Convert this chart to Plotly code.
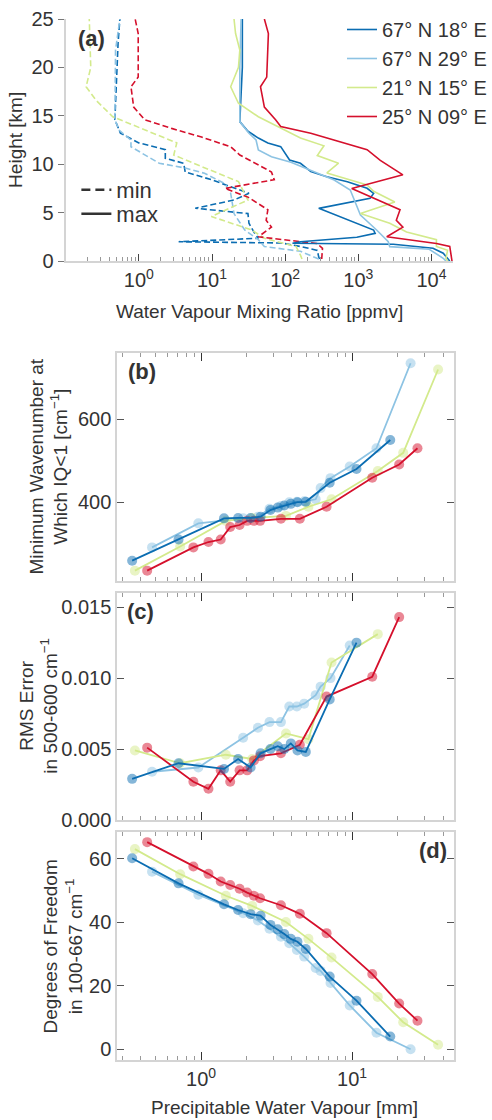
import plotly.graph_objects as go

# ---------------- data: panel (a) water vapour profiles ----------------
series_names = ["67° N 18° E", "67° N 29° E", "21° N 15° E", "25° N 09° E"]
colors = ["#0b6db2", "#8dc3e3", "#d3ea8c", "#d5102c"]

h_max_18E = [0.0, 0.28, 0.8, 1.31, 1.73, 1.83, 1.99, 2.45, 2.86, 3.2, 5.44, 6.48, 6.99, 7.51, 8.19, 8.71, 9.23, 10.09, 10.43, 11.81, 12.2, 12.7, 13.4, 14.4, 20.0, 25.0]
q_max_18E = [17800, 16600, 14500, 10500, 3020, 126, 162, 955, 1700, 1620, 288, 1450, 1620, 1320, 708, 372, 224, 162, 115, 87, 58, 43, 31, 24, 26, 26]
h_max_29E = [0.0, 0.28, 1.21, 1.48, 1.99, 3.2, 4.75, 5.61, 7.33, 8.37, 9.4, 10.2, 10.77, 11.47, 12.5, 13.19, 14.4, 20.0, 25.0]
q_max_29E = [15800, 14500, 9330, 2690, 2570, 1780, 1070, 955, 776, 468, 224, 120, 65, 43, 40, 32, 24, 24, 25]
h_max_15E = [0.0, 0.28, 1.1, 1.5, 2.2, 3.0, 3.9, 4.9, 6.1, 7.2, 7.85, 9.1, 10.1, 10.9, 11.9, 12.7, 13.9, 14.9, 16.3, 18.0, 20.0, 21.8, 23.5, 25.0]
q_max_15E = [16600, 15800, 16600, 11700, 11700, 4570, 2690, 1070, 3160, 1620, 1320, 372, 537, 275, 339, 162, 79, 43, 23, 18, 23, 24, 21, 20]
h_max_09E = [0.0, 1.5, 1.8, 2.5, 3.5, 4.2, 5.3, 6.5, 7.5, 8.9, 10.4, 11.5, 12.2, 13.2, 13.9, 14.6, 15.9, 18.0, 19.0, 23.5, 25.0]
q_max_09E = [19100, 17800, 11700, 2450, 4070, 3310, 3720, 1620, 813, 4070, 2000, 1320, 631, 224, 87, 74, 52, 46, 56, 59, 52]

h_min_18E = [0.2, 0.4, 1.1, 1.5, 1.86, 1.99, 2.35, 2.9, 3.9, 4.9, 5.45, 6.3, 7.0, 7.85, 8.4, 9.2, 10.1, 10.6, 11.5, 12.2, 13.2, 14.6, 22.5, 25.0]
q_min_18E = [295, 288, 275, 162, 89, 3.5, 43, 38, 32, 31, 5.9, 20, 32, 15, 9.8, 4.3, 4.1, 2.3, 2.3, 1.0, 0.56, 0.47, 0.52, 0.55]
h_min_29E = [0.2, 1.0, 1.5, 2.2, 3.2, 4.9, 7.0, 8.0, 9.06, 9.6, 10.1, 11.8, 12.5, 13.5, 14.6, 21.8, 25.0]
q_min_29E = [288, 162, 52, 43, 28, 20, 18, 15, 7.9, 4.3, 1.9, 0.78, 0.78, 0.54, 0.47, 0.48, 0.55]
h_min_15E = [0.2, 0.6, 1.5, 2.35, 3.2, 4.6, 6.3, 8.2, 10.1, 10.95, 12.2, 13.7, 14.9, 16.6, 18.0, 20.0, 25.0]
q_min_15E = [170, 162, 141, 52, 35, 9.8, 31, 23, 5.6, 3.0, 3.3, 1.1, 0.44, 0.26, 0.19, 0.22, 0.21]
h_min_09E = [0.2, 1.3, 1.8, 2.5, 3.5, 4.2, 5.3, 6.6, 7.5, 8.4, 9.2, 9.4, 10.95, 11.8, 12.8, 13.7, 14.6, 15.9, 18.0, 19.0, 23.5, 25.0]
q_min_09E = [316, 324, 275, 43, 65, 55, 58, 31, 15, 71, 65, 58, 24, 18, 7.2, 2.8, 1.2, 0.85, 0.78, 0.98, 0.98, 0.89]

# ---------------- data: panels (b)-(d) vs precipitable water vapour ----------------
pwv_18E = [0.35, 0.71, 1.42, 1.76, 2.13, 2.48, 2.88, 3.22, 3.56, 3.93, 4.35, 4.94, 7.11, 10.7, 17.9]
wn_18E = [259, 310, 361, 362, 362, 365, 381, 387, 392, 396, 400, 401, 447, 480, 550]
rms_18E = [0.0029, 0.0040, 0.0036, 0.0043, 0.0037, 0.0047, 0.0050, 0.0052, 0.0050, 0.0054, 0.0049, 0.0048, 0.0085, 0.0125, None]
dof_18E = [60.2, 52.3, 45.7, 43.9, 42.6, 42.1, 39.2, 37.8, 36.3, 34.8, 33.9, 31.6, 22.9, 15.3, 4.0]

pwv_29E = [0.474, 0.96, 1.90, 2.38, 2.84, 3.38, 3.84, 4.31, 4.82, 5.74, 6.19, 7.20, 9.65, 14.5, 24.4]
wn_29E = [291, 349, 361, 365, 384, 391, 400, 401, 402, 407, 434, 458, 486, 530, 735]
rms_29E = [0.0034, 0.0037, 0.0058, 0.0065, 0.0069, 0.0069, 0.0080, 0.0080, 0.0082, 0.0088, 0.0094, 0.0100, 0.0123, None, None]
dof_29E = [56.0, 48.7, 42.9, 40.6, 38.0, 35.5, 33.4, 31.3, 29.2, 25.6, 24.7, 20.9, 13.8, 5.2, 0.0]

pwv_15E = [0.365, 0.728, 1.46, 2.18, 3.65, 5.14, 7.31, 14.8, 21.8, 37.1]
wn_15E = [235, 293, 355, 362, 367, 389, 407, 475, 519, 720]
rms_15E = [0.0049, 0.0040, 0.0046, 0.0043, 0.0061, 0.0057, 0.0111, 0.0131, None, None]
dof_15E = [63.1, 55.2, 48.4, 45.2, 40.1, 34.8, 28.9, 16.5, 8.5, 1.4]

pwv_09E = [0.44, 0.89, 1.12, 1.35, 1.56, 1.80, 2.02, 2.24, 2.46, 3.38, 4.51, 6.78, 13.6, 20.5, 27.1]
wn_09E = [235, 291, 304, 310, 340, 345, 355, 355, 355, 360, 360, 389, 459, 491, 530]
rms_09E = [0.0051, 0.0027, 0.0022, 0.0035, 0.0027, 0.0035, 0.0035, 0.0042, 0.0045, 0.0047, 0.0053, 0.0087, 0.0101, 0.0143, None]
dof_09E = [65.3, 57.6, 55.3, 52.9, 51.8, 50.6, 49.4, 48.4, 47.6, 45.4, 42.7, 36.6, 23.7, 14.4, 9.0]

a_ticks = [1, 10, 100, 1000, 10000]
a_ticktext = ["10<sup>0</sup>", "10<sup>1</sup>", "10<sup>2</sup>", "10<sup>3</sup>", "10<sup>4</sup>"]
pwv_ticks = [1, 10]
pwv_ticktext = ["10<sup>0</sup>", "10<sup>1</sup>"]

# ---------------- figure ----------------
W, H = 492, 1120
FONT = "Liberation Sans, Arial, sans-serif"
TXT = "#333333"
FRAME = "#d4d4d4"
TICK_FS = 20
TITLE_FS = 19

def px(x):
    return x / W

def py(y):
    return 1 - y / H

fig = go.Figure()

prof_max = [(h_max_18E, q_max_18E), (h_max_29E, q_max_29E), (h_max_15E, q_max_15E), (h_max_09E, q_max_09E)]
prof_min = [(h_min_18E, q_min_18E), (h_min_29E, q_min_29E), (h_min_15E, q_min_15E), (h_min_09E, q_min_09E)]

for i in range(4):
    h, q = prof_min[i]
    fig.add_trace(go.Scatter(x=q, y=h, mode="lines", xaxis="x", yaxis="y",
                             line=dict(color=colors[i], width=1.6, dash="6px,3px"),
                             showlegend=False, hoverinfo="skip"))
for i in range(4):
    h, q = prof_max[i]
    fig.add_trace(go.Scatter(x=q, y=h, mode="lines", xaxis="x", yaxis="y",
                             name=series_names[i],
                             line=dict(color=colors[i], width=1.6),
                             showlegend=True))

# min / max line-style legend entries
fig.add_trace(go.Scatter(x=[None], y=[None], mode="lines", xaxis="x", yaxis="y",
                         name="min", legend="legend2",
                         line=dict(color="#333333", width=2.5, dash="9px,5px")))
fig.add_trace(go.Scatter(x=[None], y=[None], mode="lines", xaxis="x", yaxis="y",
                         name="max", legend="legend3",
                         line=dict(color="#333333", width=2.5)))

pwv = [pwv_18E, pwv_29E, pwv_15E, pwv_09E]
wn = [wn_18E, wn_29E, wn_15E, wn_09E]
rms = [rms_18E, rms_29E, rms_15E, rms_09E]
dof = [dof_18E, dof_29E, dof_15E, dof_09E]

for vals, ax in [(wn, "2"), (rms, "3"), (dof, "4")]:
    for i in [1, 2, 3, 0]:
        fig.add_trace(go.Scatter(x=pwv[i], y=vals[i], mode="lines+markers",
                                 xaxis="x" + ax, yaxis="y" + ax,
                                 line=dict(color=colors[i], width=1.8),
                                 marker=dict(color=colors[i], size=10, opacity=0.5,
                                             line=dict(width=0)),
                                 connectgaps=False, showlegend=False))

tickfont = dict(family=FONT, size=TICK_FS, color=TXT)

a_minor = [m * 10 ** e for e in range(-1, 5) for m in range(2, 10) if m * 10 ** e <= 20000]
p_minor = [0.3, 0.4, 0.5, 0.6, 0.7, 0.8, 0.9, 2, 3, 4, 5, 6, 7, 8, 9, 20, 30, 40]

xdom_a = [px(66.25), px(457.1)]
xdom_b = [px(118.3), px(457.3)]

common_x = dict(type="log", range=[-0.554, 1.672], domain=xdom_b, showline=True,
                linecolor=FRAME, linewidth=2, mirror="allticks", ticks="inside",
                ticklen=8, tickwidth=1.3, tickcolor="#333333",
                tickvals=pwv_ticks, ticktext=pwv_ticktext, showgrid=False,
                zeroline=False, tickfont=tickfont, automargin=False,
                minor=dict(tickvals=p_minor, ticks="inside", ticklen=4,
                           tickwidth=1, tickcolor="#999999", showgrid=False))
common_y = dict(showline=True, linecolor=FRAME, linewidth=2, mirror="allticks",
                ticks="inside", ticklen=7, tickwidth=1.3, tickcolor="#555555",
                showgrid=False, zeroline=False, tickfont=tickfont, automargin=False)

fig.update_layout(
    width=W, height=H, autosize=False,
    margin=dict(l=0, r=0, t=0, b=0, pad=0),
    template="none",
    paper_bgcolor="white", plot_bgcolor="white",
    font=dict(family=FONT, size=TITLE_FS, color=TXT),
    xaxis=dict(type="log", range=[-1, 4.3], domain=xdom_a, anchor="y",
               showline=True, linecolor=FRAME, linewidth=2, mirror=False,
               ticks="inside", ticklen=7, tickwidth=1.3, tickcolor="#444444",
               tickvals=a_ticks, ticktext=a_ticktext, showgrid=False, zeroline=False,
               tickfont=tickfont, automargin=False,
               minor=dict(tickvals=a_minor, ticks="inside", ticklen=4, tickwidth=1,
                          tickcolor="#999999", showgrid=False)),
    yaxis=dict(range=[0, 25], domain=[py(261), py(19)], anchor="x",
               showline=True, linecolor=FRAME, linewidth=2, mirror=False,
               ticks="outside", ticklen=6, tickwidth=1.3, tickcolor="#777777",
               tickvals=[0, 5, 10, 15, 20, 25], showgrid=False, zeroline=False,
               tickfont=tickfont, automargin=False),
    xaxis2=dict(common_x, anchor="y2", showticklabels=False),
    yaxis2=dict(common_y, range=[210, 759], domain=[py(581), py(353.3)], anchor="x2",
                tickvals=[400, 600]),
    xaxis3=dict(common_x, anchor="y3", showticklabels=False),
    yaxis3=dict(common_y, range=[0, 0.016], domain=[py(820), py(593)], anchor="x3",
                tickvals=[0, 0.005, 0.010, 0.015], tickformat=".3f"),
    xaxis4=dict(common_x, anchor="y4", showticklabels=True),
    yaxis4=dict(common_y, range=[-3.4, 68.5], domain=[py(1060), py(832)], anchor="x4",
                tickvals=[0, 20, 40, 60]),
    legend=dict(x=px(345), y=py(10), xanchor="left", yanchor="top",
                bgcolor="rgba(0,0,0,0)", borderwidth=0,
                font=dict(family=FONT, size=20, color=TXT)),
    legend2=dict(x=px(77), y=py(169), xanchor="left", yanchor="top",
                 bgcolor="rgba(0,0,0,0)", borderwidth=0,
                 font=dict(family=FONT, size=22, color=TXT)),
    legend3=dict(x=px(77), y=py(193), xanchor="left", yanchor="top",
                 bgcolor="rgba(0,0,0,0)", borderwidth=0,
                 font=dict(family=FONT, size=22, color=TXT)),
)

ann = []
# panel labels
for lab, x, y in [("(a)", 92, 39), ("(b)", 143, 372), ("(c)", 142, 612), ("(d)", 437, 850)]:
    ann.append(dict(text="<b>%s</b>" % lab, x=px(x), y=py(y), xref="paper", yref="paper",
                    xanchor="center", yanchor="middle", showarrow=False,
                    font=dict(family=FONT, size=22, color=TXT)))
# axis titles
ann.append(dict(text="Height [km]", x=px(15), y=py(140), xref="paper", yref="paper",
                textangle=-90, xanchor="center", yanchor="middle", showarrow=False,
                font=dict(family=FONT, size=TITLE_FS, color=TXT)))
ann.append(dict(text="Water Vapour Mixing Ratio [ppmv]", x=px(262), y=py(311), xref="paper",
                yref="paper", xanchor="center", yanchor="middle", showarrow=False,
                font=dict(family=FONT, size=TITLE_FS, color=TXT)))
ann.append(dict(text="Minimum Wavenumber at<br>Which IQ&lt;1 [cm<sup>−1</sup>]", x=px(49), y=py(467),
                xref="paper", yref="paper", textangle=-90, xanchor="center", yanchor="middle",
                showarrow=False, font=dict(family=FONT, size=TITLE_FS, color=TXT)))
ann.append(dict(text="RMS Error<br>in 500-600 cm<sup>−1</sup>", x=px(39), y=py(706),
                xref="paper", yref="paper", textangle=-90, xanchor="center", yanchor="middle",
                showarrow=False, font=dict(family=FONT, size=TITLE_FS, color=TXT)))
ann.append(dict(text="Degrees of Freedom<br>in 100-667 cm<sup>−1</sup>", x=px(64), y=py(946),
                xref="paper", yref="paper", textangle=-90, xanchor="center", yanchor="middle",
                showarrow=False, font=dict(family=FONT, size=TITLE_FS, color=TXT)))
ann.append(dict(text="Precipitable Water Vapour [mm]", x=px(287), y=py(1107), xref="paper",
                yref="paper", xanchor="center", yanchor="middle", showarrow=False,
                font=dict(family=FONT, size=TITLE_FS, color=TXT)))
fig.update_layout(annotations=ann)

fig.write_html("out.html")
